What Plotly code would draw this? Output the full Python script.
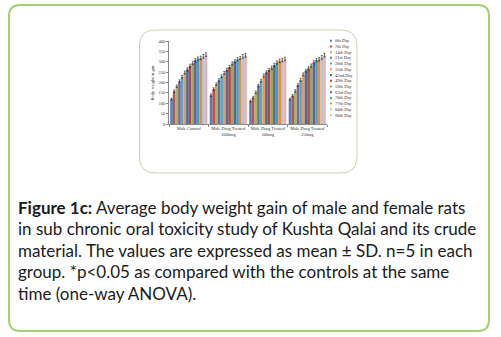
import plotly.graph_objects as go

W, H = 501, 337
# plot area in pixels
PL, PR, PT, PB = 169, 327, 41, 124

categories = ["Male Control", "Male Drug Treated<br>1000mg", "Male Drug Treated<br>500mg", "Male Drug Treated<br>250mg"]
days = ["0th Day", "7th Day", "14th Day", "21st Day", "28th Day", "35th Day", "42nd Day",
        "49th Day", "56th Day", "63rd Day", "70th Day", "77th Day", "84th Day", "90th Day"]
control = [120, 158, 182, 206, 227, 248, 263, 280, 294, 307, 315, 318, 326, 334]
d1000 = [139, 168, 192, 211, 230, 246, 262, 275, 291, 302, 312, 318, 326, 331]
d500 = [111, 128, 153, 185, 209, 233, 249, 260, 271, 284, 296, 304, 308, 313]
d250 = [120, 137, 159, 188, 212, 239, 257, 268, 281, 297, 308, 312, 321, 332]
sd_control = [5, 6, 6, 7, 7, 7, 8, 8, 8, 8, 8, 9, 9, 9]
sd_d1000 = [6, 6, 6, 7, 7, 7, 7, 8, 8, 8, 8, 8, 9, 9]
sd_d500 = [5, 5, 6, 6, 7, 7, 7, 7, 8, 8, 8, 8, 9, 9]
sd_d250 = [5, 6, 6, 6, 7, 7, 7, 8, 8, 8, 8, 8, 9, 9]
colors = ["#4F81BD", "#C0504D", "#9BBB59", "#8064A2", "#4BACC6", "#F79646", "#3C6EB4",
          "#B8433F", "#8FB04C", "#6A5AA6", "#3FA3C0", "#F28A30", "#B3C4DF", "#E5B2B0"]
caption_lines = [
    "<b>Figure 1c:</b> Average body weight gain of male and female rats",
    "in sub chronic oral toxicity study of Kushta Qalai and its crude",
    "material. The values are expressed as mean ± SD. n=5 in each",
    "group. *p<0.05 as compared with the controls at the same",
    "time (one-way ANOVA).",
]

groups = [control, d1000, d500, d250]
sds = [sd_control, sd_d1000, sd_d500, sd_d250]

def px(x):
    return (x - PL) / (PR - PL)

def py(y):
    return (PB - y) / (PB - PT)

def rrect(x0, y0, x1, y1, r):
    pts = [
        f"M {px(x0 + r)} {py(y0)}",
        f"L {px(x1 - r)} {py(y0)}",
        f"Q {px(x1)} {py(y0)} {px(x1)} {py(y0 + r)}",
        f"L {px(x1)} {py(y1 - r)}",
        f"Q {px(x1)} {py(y1)} {px(x1 - r)} {py(y1)}",
        f"L {px(x0 + r)} {py(y1)}",
        f"Q {px(x0)} {py(y1)} {px(x0)} {py(y1 - r)}",
        f"L {px(x0)} {py(y0 + r)}",
        f"Q {px(x0)} {py(y0)} {px(x0 + r)} {py(y0)}",
        "Z",
    ]
    return " ".join(pts)

fig = go.Figure()
for i, d in enumerate(days):
    fig.add_trace(go.Bar(
        x=categories,
        y=[g[i] for g in groups],
        name=d,
        marker=dict(color=colors[i], line=dict(width=0)),
        error_y=dict(type="data", array=[s[i] for s in sds], color="#222222", thickness=0.6, width=1),
        showlegend=False,
    ))

shapes = [
    dict(type="path", xref="paper", yref="paper", path=rrect(9, 5, 489, 331, 11),
         line=dict(color="#A9CF74", width=2), fillcolor="rgba(0,0,0,0)", layer="below"),
    dict(type="path", xref="paper", yref="paper", path=rrect(139.5, 30, 357, 173, 16),
         line=dict(color="#CFCDB3", width=1), fillcolor="rgba(0,0,0,0)", layer="below"),
]
annotations = []
# legend built from the series list
for i, d in enumerate(days):
    yy = 40.7 + i * 5.72
    shapes.append(dict(type="rect", xref="paper", yref="paper",
                       x0=px(330), x1=px(332), y0=py(yy - 1), y1=py(yy + 1),
                       fillcolor=colors[i], line=dict(width=0)))
    annotations.append(dict(text=d, x=px(333), y=py(yy), xref="paper", yref="paper",
                            xanchor="left", yanchor="middle", showarrow=False,
                            font=dict(family="Liberation Serif", size=4.5, color="#333333")))
# caption
for k, line in enumerate(caption_lines):
    annotations.append(dict(text=line, x=px(16), y=py(207 + k * 21.6), xref="paper", yref="paper",
                            xanchor="left", yanchor="middle", showarrow=False,
                            font=dict(family="Lato", size=17, color="#1a1a1a")))

fig.update_layout(
    width=W, height=H,
    margin=dict(l=PL, r=W - PR, t=PT, b=H - PB, pad=0),
    paper_bgcolor="white", plot_bgcolor="white",
    barmode="group", bargap=0.06, bargroupgap=0,
    shapes=shapes, annotations=annotations,
    xaxis=dict(showline=True, linecolor="#888888", linewidth=0.6, tickson="boundaries",
               ticks="outside", ticklen=2, tickcolor="#888888", tickwidth=0.6, tickangle=0,
               tickfont=dict(family="Liberation Serif", size=4.5, color="#333333"),
               range=[-0.5, 3.5], fixedrange=True),
    yaxis=dict(range=[0, 400], dtick=50, showline=True, linecolor="#888888", linewidth=0.6,
               ticks="outside", ticklen=2, tickcolor="#888888", tickwidth=0.6, showgrid=False,
               zeroline=False,
               tickfont=dict(family="Liberation Serif", size=4.5, color="#333333"),
               title=dict(text="Body weight in gm.", standoff=3,
                          font=dict(family="Liberation Serif", size=4.5, color="#333333"))),
    showlegend=False,
)
fig.write_html("out.html")
